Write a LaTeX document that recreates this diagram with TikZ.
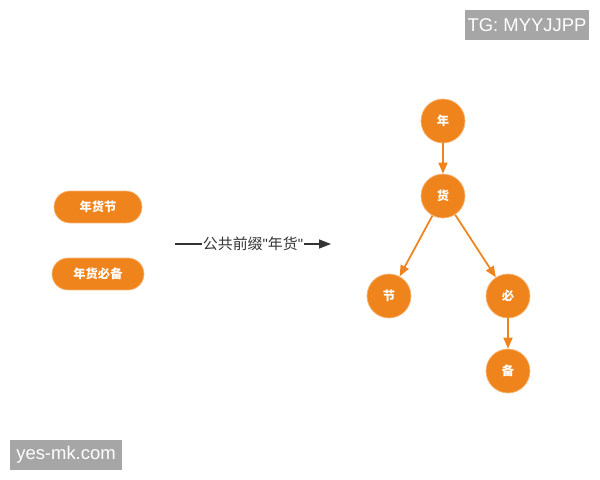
\documentclass[tikz,border=0pt]{standalone}
\usepackage{fontspec}
\setmainfont{Noto Sans CJK SC}
\newfontfamily\latinfont{Liberation Sans}
\usetikzlibrary{arrows.meta}
\definecolor{nodeorange}{HTML}{F0841C}
\definecolor{markgray}{HTML}{A6A6A6}
\newcommand{\sq}{{\latinfont\symbol{34}}}
\begin{document}
\begin{tikzpicture}[x=0.02cm, y=-0.02cm,
    letter/.style={circle, fill=nodeorange, draw=nodeorange!60!white, minimum size=0.88cm, inner sep=0pt, font=\fontsize{7}{8}\selectfont\bfseries, text=white},
    word/.style={rounded corners=0.32cm, fill=nodeorange, draw=nodeorange!60!white, minimum height=0.64cm, inner sep=0pt, font=\fontsize{7}{8}\selectfont\bfseries, text=white},
    edge/.style={-{Triangle[length=2.2mm, width=1.8mm]}, nodeorange, line width=1pt},
    watermark/.style={fill=markgray, text=white, inner sep=0pt, font=\latinfont\fontsize{10.5}{12}\selectfont},
]
\useasboundingbox (0,0) rectangle (600,480);
% Strings
\node[word, minimum width=1.76cm] (jhj) at (98,207) {年货节};
\node[word, minimum width=1.84cm] (nhbb) at (98,274) {年货必备};

% Middle note
\coordinate (notestart) at (175,244);
\coordinate (noteend) at (331,244);
\node[inner sep=0.5pt, font=\fontsize{8.5}{10}\selectfont, text=black!80] (note) at (253,244) {公共前缀\sq 年货\sq};
\draw[black!80, line width=0.9pt] (notestart) -- (note.west);
\draw[-{Triangle[length=2.4mm, width=1.8mm]}, black!80, line width=0.9pt] (note.east) -- (noteend);

% Trie
\node[letter] (nian) at (443,121) {年};
\node[letter] (huo) at (443,196) {货};
\node[letter] (jie) at (389,296) {节};
\node[letter] (bi) at (508,296) {必};
\node[letter] (bei) at (508,371) {备};
\draw[edge] (nian) -- (huo);
\draw[edge] (huo) -- (jie);
\draw[edge] (huo) -- (bi);
\draw[edge] (bi) -- (bei);

% Watermarks
\node[watermark, minimum width=2.5cm, minimum height=0.6cm] (tg) at (527,25) {TG: MYYJJPP};
\node[watermark, minimum width=2.26cm, minimum height=0.6cm] (site) at (66,455) {yes-mk.com};
\end{tikzpicture}
\end{document}
